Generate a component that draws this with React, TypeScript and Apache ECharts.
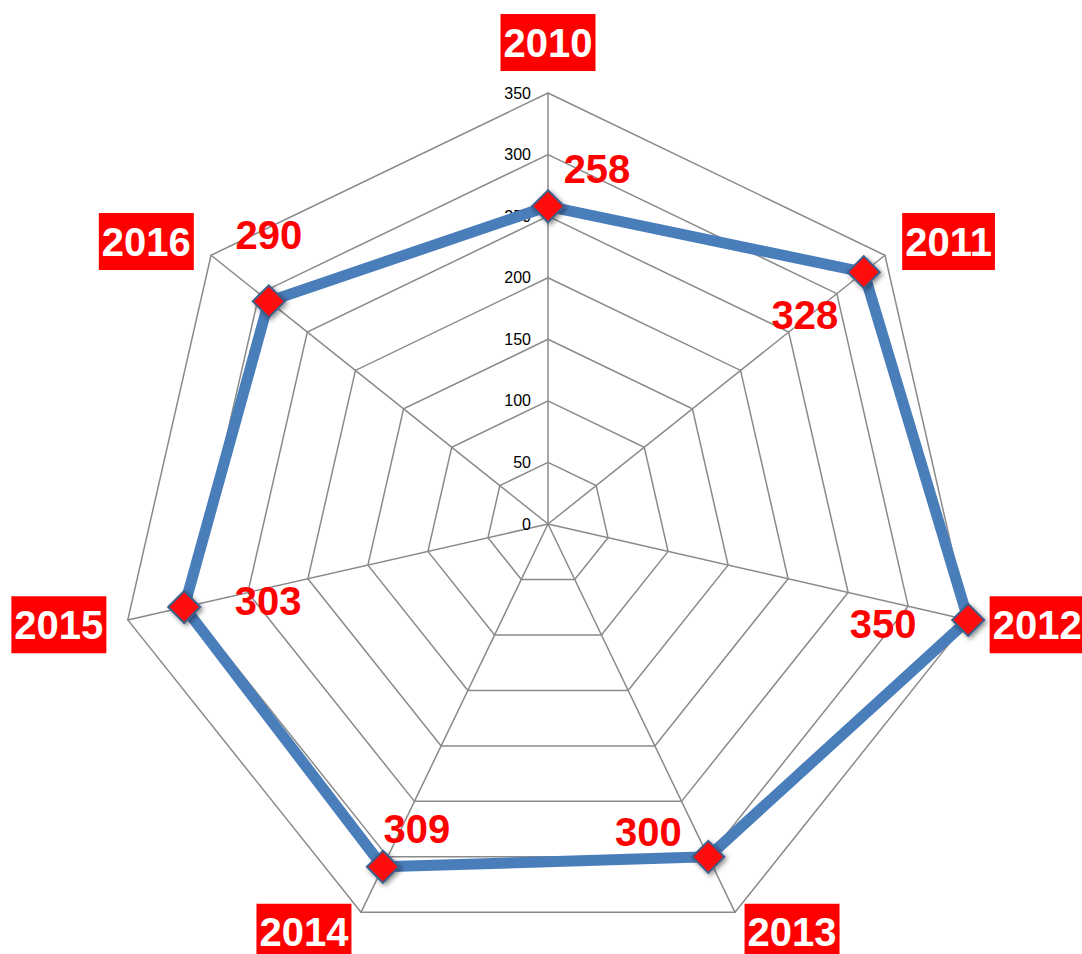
import React, { useEffect, useRef } from "react";
import * as echarts from "echarts";

const categories = ["2010", "2011", "2012", "2013", "2014", "2015", "2016"];
const values = [258, 328, 350, 300, 309, 303, 290];
const axisMax = 350;
const axisSplits = 7;
// label offsets (px) relative to each point, for the value labels
const labelOffsets: [number, number][] = [
  [49, -37],
  [-59, 43],
  [-85, 4],
  [-60, -25],
  [34, -38],
  [84, -6],
  [0, -66],
];

const FONT = "'Liberation Sans', Arial, sans-serif";

export default function App() {
  const ref = useRef<HTMLDivElement>(null);
  useEffect(() => {
    if (!ref.current) return;
    const chart = echarts.init(ref.current, undefined, { renderer: "svg" });
    const center = [548, 524];
    const radius = 431;
    const n = categories.length;
    // radar runs counter-clockwise; reorder so categories run clockwise
    const order = categories.map((_, k) => (k === 0 ? 0 : n - k));
    chart.setOption({
      animation: false,
      backgroundColor: "#ffffff",
      radar: {
        center,
        radius,
        startAngle: 90,
        shape: "polygon",
        splitNumber: axisSplits,
        nameGap: 22,
        indicator: order.map((idx, k) => ({
          name: categories[idx],
          min: 0,
          max: axisMax,
          axisLabel: { show: k === 0 },
        })),
        axisName: {
          color: "#ffffff",
          backgroundColor: "#ff0000",
          fontSize: 40,
          fontWeight: "bold",
          fontFamily: FONT,
          padding: [9, 3, 8, 3],
        },
        axisLine: { show: true, lineStyle: { color: "#8a8a8a", width: 1.5 } },
        splitLine: { lineStyle: { color: "#8a8a8a", width: 1.5 } },
        splitArea: { show: false },
        axisTick: { show: false },
        axisLabel: {
          show: false,
          color: "#000000",
          fontSize: 16,
          fontFamily: FONT,
          margin: 17,
          showMinLabel: true,
          showMaxLabel: true,
        },
      },
      polar: { center, radius },
      angleAxis: {
        type: "value",
        min: 0,
        max: 360,
        startAngle: 90,
        clockwise: true,
        show: false,
      },
      radiusAxis: { type: "value", min: 0, max: axisMax, show: false },
      series: [
        {
          type: "radar",
          symbol: "diamond",
          symbolSize: 32,
          lineStyle: { color: "#4a7ebb", width: 11 },
          itemStyle: {
            color: "#ff0a0a",
            borderColor: "#3d5f8c",
            borderWidth: 2,
            shadowColor: "rgba(0,0,0,0.45)",
            shadowBlur: 5,
            shadowOffsetX: 2,
            shadowOffsetY: 2,
          },
          data: [{ value: order.map((idx) => values[idx]), name: "values" }],
          z: 3,
        },
        {
          type: "scatter",
          coordinateSystem: "polar",
          symbolSize: 1,
          itemStyle: { color: "#ffffff", opacity: 0 },
          silent: true,
          z: 4,
          label: {
            show: true,
            position: "inside",
            color: "#ff0000",
            opacity: 1,
            textBorderWidth: 0,
            fontSize: 40,
            fontWeight: "bold",
            fontFamily: FONT,
            formatter: (p: any) => String(p.value[0]),
          },
          data: values.map((v, i) => ({
            value: [v, (i * 360) / n],
            label: { offset: labelOffsets[i] },
          })),
        },
      ],
    });
    return () => chart.dispose();
  }, []);
  return (
    <div
      ref={ref}
      style={{ position: "absolute", left: 0, top: 0, width: 1082, height: 954 }}
    />
  );
}
